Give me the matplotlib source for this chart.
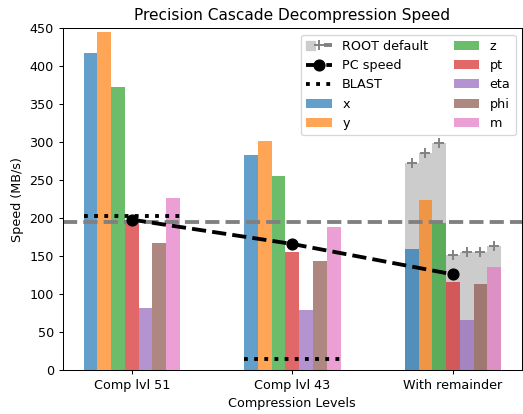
import numpy as np
import matplotlib
matplotlib.use("Agg")
import matplotlib.pyplot as plt
from matplotlib.patches import Patch
from matplotlib.lines import Line2D
from matplotlib.legend_handler import HandlerTuple

# data
levels = ["Comp lvl 51", "Comp lvl 43", "With remainder"]
branches = ["x", "y", "z", "pt", "eta", "phi", "m"]
speed_x = [417, 283, 160]
speed_y = [445, 302, 224]
speed_z = [372, 256, 194]
speed_pt = [197, 155, 116]
speed_eta = [82, 79, 66]
speed_phi = [167, 143, 113]
speed_m = [227, 188, 136]
root_default = [272, 286, 299, 152, 156, 155, 163]  # per branch, no compression step
root_avg = 195
pc_speed = [198, 166, 126]
blast_speed = [203, 14]

speeds = [speed_x, speed_y, speed_z, speed_pt, speed_eta, speed_phi, speed_m]

dpi = 92
fig, ax = plt.subplots(figsize=(523 / dpi, 414 / dpi), dpi=dpi)
fig.subplots_adjust(left=0.12, right=0.998, top=0.932, bottom=0.106)

pos = np.arange(len(levels))
w = 0.6 / len(branches)
offs = (np.arange(len(branches)) - 3) * w

# ROOT default behind the last group
ax.bar(pos[-1] + offs, root_default, w, color="#cccccc")
ax.plot(pos[-1] + offs, root_default, ls="none", marker="+", ms=8, mew=1.5, color="gray")
ax.axhline(root_avg, color="gray", ls="--", lw=3)

for i, (name, vals) in enumerate(zip(branches, speeds)):
    ax.bar(pos + offs[i], vals, w, color=f"C{i}", alpha=0.7, label=name)

ax.plot(pos, pc_speed, "k--", lw=3, marker="o", ms=8.5)
for p, b in zip(pos, blast_speed):
    ax.hlines(b, p - 0.3, p + 0.3, color="k", ls=":", lw=3)

ax.set_ylim(0, 450)
ax.set_xticks(pos)
ax.set_xticklabels(levels)
ax.set_xlabel("Compression Levels")
ax.set_ylabel("Speed (MB/s)")
ax.set_title("Precision Cascade Decompression Speed")

# legend
root_h = (Patch(color="#cccccc"),
          Line2D([], [], ls="none", marker="+", ms=8, mew=1.5, color="gray"),
          Line2D([], [], color="gray", ls="--", lw=3))
pc_h = Line2D([], [], color="k", ls="--", lw=3, marker="o", ms=8.5)
blast_h = Line2D([], [], color="k", ls=":", lw=3)
bar_h, bar_l = ax.get_legend_handles_labels()
ax.legend([root_h, pc_h, blast_h] + bar_h, ["ROOT default", "PC speed", "BLAST"] + bar_l,
          ncol=2, loc="upper right",
          handler_map={tuple: HandlerTuple(ndivide=None, pad=0)})

plt.savefig("out.png")
